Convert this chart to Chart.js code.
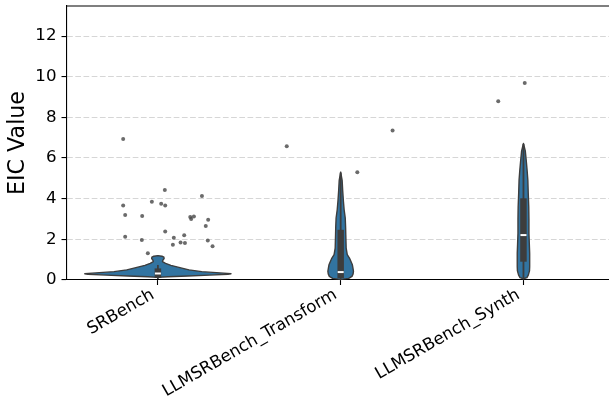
<!DOCTYPE html>
<html>
<head>
<meta charset="utf-8">
<script src="https://cdn.jsdelivr.net/npm/chart.js@4.4.0/dist/chart.umd.min.js"></script>
<style>
  html, body { margin: 0; padding: 0; background: #fff; }
  #wrap { width: 609px; height: 400px; }
</style>
</head>
<body>
<div id="wrap"><canvas id="eicChart" width="609" height="400"></canvas></div>
<script>
const categories = ["SRBench", "LLMSRBench_Transform", "LLMSRBench_Synth"];
const yTicks = [0, 2, 4, 6, 8, 10, 12];

// violin outlines: EIC level -> half width (share of one category slot)
const srbenchLevels = [0.13, 0.16, 0.20, 0.24, 0.28, 0.31, 0.35, 0.41, 0.50, 0.62, 0.72, 0.82, 0.90, 0.97, 1.05, 1.12, 1.17, 1.20];
const srbenchWidths = [0, 0.055, 0.164, 0.284, 0.383, 0.40, 0.34, 0.24, 0.17, 0.115, 0.071, 0.042, 0.025, 0.027, 0.034, 0.033, 0.022, 0];

const transformLevels = [0.03, 0.08, 0.18, 0.30, 0.43, 0.60, 0.75, 0.90, 1.08, 1.25, 1.57, 1.90, 2.23, 2.60, 3.05, 3.45, 3.87, 4.40, 4.90, 5.31];
const transformWidths = [0, 0.044, 0.062, 0.068, 0.070, 0.067, 0.064, 0.057, 0.048, 0.036, 0.030, 0.029, 0.028, 0.027, 0.025, 0.019, 0.015, 0.011, 0.008, 0];

const synthLevels = [0.06, 0.12, 0.25, 0.45, 0.65, 1.00, 1.31, 1.80, 2.30, 3.00, 3.60, 4.30, 4.92, 5.40, 5.90, 6.35, 6.72];
const synthWidths = [0, 0.019, 0.027, 0.033, 0.034, 0.034, 0.034, 0.032, 0.030, 0.030, 0.029, 0.026, 0.024, 0.020, 0.015, 0.010, 0];

// inner box
const whiskerLow = [0.05, 0.05, 0.10];
const quartile1 = [0.11, 0.10, 0.90];
const medians = [0.32, 0.39, 2.21];
const quartile3 = [0.57, 2.47, 4.02];
const whiskerHigh = [0.74, 5.28, 6.69];

// strip points: offset from category centre, value
const srbenchJitter = [-0.190, 0.038, 0.241, -0.190, -0.033, 0.018, 0.040, -0.179, -0.086, 0.177, 0.182, 0.197, 0.275, 0.262, 0.040, -0.179, 0.144, 0.087, -0.088, 0.273, 0.124, 0.148, 0.082, 0.299, -0.055];
const srbenchPoints = [6.94, 4.43, 4.13, 3.66, 3.85, 3.75, 3.67, 3.20, 3.15, 3.10, 3.00, 3.12, 2.97, 2.66, 2.38, 2.13, 2.20, 2.08, 1.97, 1.94, 1.84, 1.82, 1.74, 1.66, 1.31];
const transformJitter = [-0.295, 0.091, 0.284];
const transformPoints = [6.58, 5.30, 7.36];
const synthJitter = [-0.138, 0.007];
const synthPoints = [8.80, 9.69];

const violins = [
    { levels: srbenchLevels, widths: srbenchWidths },
    { levels: transformLevels, widths: transformWidths },
    { levels: synthLevels, widths: synthWidths }
];

const stripPoints = [];
[[srbenchJitter, srbenchPoints], [transformJitter, transformPoints], [synthJitter, synthPoints]]
    .forEach(([jitter, values], i) => {
        values.forEach((v, k) => stripPoints.push({ x: i + jitter[k], y: v }));
    });

const violinColor = "#3274a1";
const edgeColor = "#3d3d3d";
const font = "DejaVu Sans";

const violinPlugin = {
    id: "violins",

    beforeDatasetsDraw: (chart) => {
        const ctx = chart.ctx;
        const x = chart.scales.x;
        const y = chart.scales.y;

        violins.forEach((v, i) => {
            ctx.save();
            ctx.beginPath();
            v.levels.forEach((lv, k) => {
                const px = x.getPixelForValue(i + v.widths[k]);
                const py = y.getPixelForValue(lv);
                if (k === 0) ctx.moveTo(px, py); else ctx.lineTo(px, py);
            });
            for (let k = v.levels.length - 1; k >= 0; k--) {
                ctx.lineTo(x.getPixelForValue(i - v.widths[k]), y.getPixelForValue(v.levels[k]));
            }
            ctx.closePath();
            ctx.fillStyle = violinColor;
            ctx.fill();
            ctx.lineJoin = "round";
            ctx.lineWidth = 1.4;
            ctx.strokeStyle = edgeColor;
            ctx.stroke();

            const cx = x.getPixelForValue(i);

            // whisker
            ctx.beginPath();
            ctx.moveTo(cx, y.getPixelForValue(whiskerLow[i]));
            ctx.lineTo(cx, y.getPixelForValue(whiskerHigh[i]));
            ctx.lineWidth = 1.8;
            ctx.stroke();

            // box
            ctx.beginPath();
            ctx.moveTo(cx, y.getPixelForValue(quartile1[i]));
            ctx.lineTo(cx, y.getPixelForValue(quartile3[i]));
            ctx.lineWidth = 6.5;
            ctx.stroke();

            // median
            const my = y.getPixelForValue(medians[i]);
            ctx.beginPath();
            ctx.moveTo(cx - 3, my);
            ctx.lineTo(cx + 3, my);
            ctx.lineWidth = 2;
            ctx.strokeStyle = "#ffffff";
            ctx.stroke();
            ctx.restore();
        });
    },

    afterDraw: (chart) => {
        // top spine
        const ctx = chart.ctx;
        const area = chart.chartArea;
        ctx.save();
        ctx.beginPath();
        ctx.moveTo(area.left, area.top);
        ctx.lineTo(area.right, area.top);
        ctx.lineWidth = 1.1;
        ctx.strokeStyle = "#000";
        ctx.stroke();
        ctx.restore();
    }
};

new Chart(document.getElementById("eicChart").getContext("2d"), {
    type: "scatter",

    data: {
        datasets: [{
            label: "EIC",
            data: stripPoints,
            backgroundColor: "rgba(70,70,70,0.8)",
            borderWidth: 0,
            pointRadius: 2,
            pointHoverRadius: 2
        }]
    },

    options: {
        responsive: false,
        animation: false,
        devicePixelRatio: 1,

        layout: {
            autoPadding: false,
            padding: { top: 6, left: 0, right: 0, bottom: 0 }
        },

        plugins: {
            legend: { display: false },
            tooltip: { enabled: false }
        },

        scales: {
            x: {
                type: "linear",
                min: -0.5,
                max: 2.468,
                afterBuildTicks: (axis) => {
                    axis.ticks = categories.map((c, i) => ({ value: i }));
                },
                afterFit: (axis) => {
                    axis.height = 120;
                    axis.paddingLeft = 0;
                    axis.paddingRight = 0;
                },
                ticks: {
                    callback: (v) => categories[v],
                    minRotation: 30,
                    maxRotation: 30,
                    autoSkip: false,
                    labelOffset: -5,
                    color: "#000",
                    padding: 0,
                    font: { family: font, size: 16.67 }
                },
                grid: {
                    drawOnChartArea: false,
                    tickColor: "#000",
                    tickLength: 5,
                    tickWidth: 1.1
                },
                border: {
                    display: true,
                    color: "#000",
                    width: 1.1
                }
            },

            y: {
                min: 0,
                max: 13.48,
                afterBuildTicks: (axis) => {
                    axis.ticks = yTicks.map(v => ({ value: v }));
                },
                afterFit: (axis) => {
                    axis.width = 66.5;
                    axis.paddingTop = 0;
                    axis.paddingBottom = 0;
                },
                ticks: {
                    color: "#000",
                    padding: 5,
                    font: { family: font, size: 16.67 }
                },
                grid: {
                    color: (c) => (c.tick && c.tick.value === 0) ? "rgba(0,0,0,0)" : "#d6d6d6",
                    lineWidth: 1.1,
                    tickColor: "#000",
                    tickLength: 5,
                    tickWidth: 1.1
                },
                border: {
                    display: true,
                    color: "#000",
                    width: 1.1,
                    dash: [5.7, 2.5]
                },
                title: {
                    display: true,
                    text: "EIC Value",
                    color: "#000",
                    padding: { top: 5, bottom: 0 },
                    font: { family: font, size: 22.2 }
                }
            }
        }
    },

    plugins: [violinPlugin]
});
</script>
</body>
</html>
